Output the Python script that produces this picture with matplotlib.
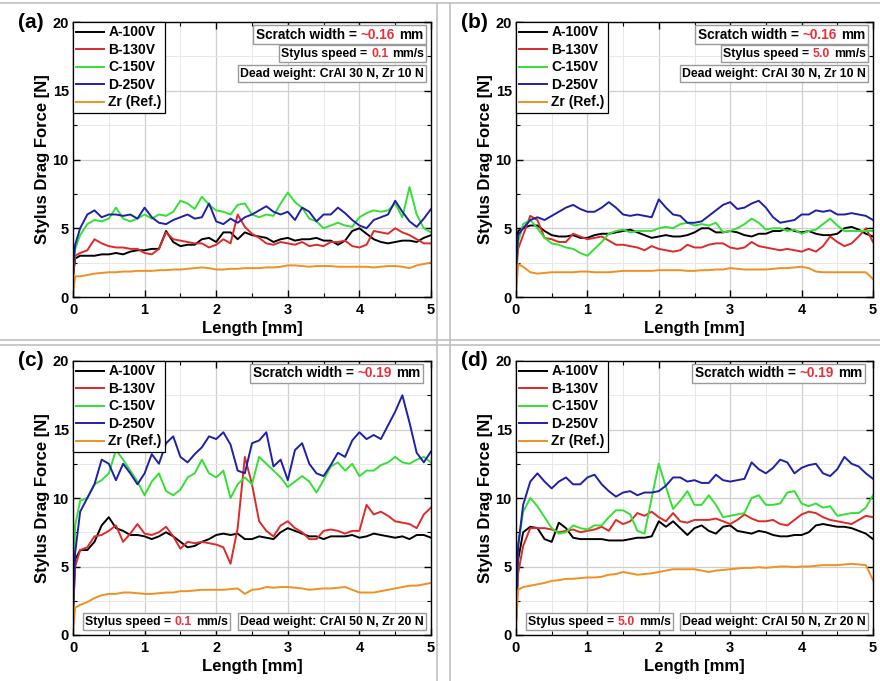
import matplotlib
matplotlib.use("Agg")
import matplotlib.pyplot as plt
from matplotlib.offsetbox import TextArea, HPacker, AnchoredOffsetbox
from matplotlib.ticker import MultipleLocator
from matplotlib.lines import Line2D

plt.rcParams['font.family'] = ['Liberation Sans', 'DejaVu Sans']
plt.rcParams['font.weight'] = 'bold'

# ---------------- data ----------------
length_mm = [0.0, 0.03, 0.1, 0.2, 0.3, 0.4, 0.5, 0.6, 0.7, 0.8, 0.9, 1.0,
             1.1, 1.2, 1.3, 1.4, 1.5, 1.6, 1.7, 1.8, 1.9, 2.0,
             2.1, 2.2, 2.3, 2.4, 2.5, 2.6, 2.7, 2.8, 2.9, 3.0,
             3.1, 3.2, 3.3, 3.4, 3.5, 3.6, 3.7, 3.8, 3.9, 4.0,
             4.1, 4.2, 4.3, 4.4, 4.5, 4.6, 4.7, 4.8, 4.9, 5.0]

series_labels = ['A-100V', 'B-130V', 'C-150V', 'D-250V', 'Zr (Ref.)']

# panel (a): 0.1 mm/s, CrAl 30 N
a_A = [1.5, 2.8, 3.0, 3.0, 3.0, 3.1, 3.1, 3.2, 3.1, 3.3, 3.4, 3.4,
       3.5, 3.5, 4.8, 4.0, 3.7, 3.8, 3.8, 4.2, 4.3, 4.0,
       4.7, 4.7, 4.2, 4.7, 4.5, 4.4, 4.3, 4.0, 4.2, 4.3,
       4.1, 4.2, 4.2, 4.3, 4.1, 4.1, 3.8, 4.1, 4.8, 5.0,
       4.6, 4.2, 4.0, 3.9, 4.0, 4.1, 4.1, 4.0, 4.3, 4.5]
a_B = [1.5, 3.0, 3.2, 3.4, 4.2, 3.9, 3.7, 3.6, 3.6, 3.5, 3.5, 3.2,
       3.1, 3.5, 4.7, 4.2, 4.1, 4.0, 3.9, 3.9, 3.6, 3.8,
       4.2, 3.9, 6.0, 5.1, 4.6, 4.3, 3.9, 3.8, 4.0, 3.9,
       3.8, 4.0, 3.7, 3.8, 3.7, 4.0, 4.0, 4.1, 3.7, 3.6,
       3.8, 4.8, 4.7, 4.6, 5.0, 4.7, 4.5, 4.2, 3.9, 3.9]
a_C = [2.0, 3.5, 4.5, 5.3, 5.6, 5.5, 5.7, 6.5, 5.7, 5.5, 5.7, 6.0,
       5.7, 6.0, 5.9, 6.2, 7.0, 6.8, 6.4, 7.3, 6.7, 6.3,
       6.2, 6.0, 6.7, 6.8, 6.0, 5.8, 6.0, 5.9, 6.8, 7.6,
       6.9, 6.5, 5.7, 5.5, 5.0, 5.2, 5.4, 5.2, 5.1, 5.8,
       6.1, 6.3, 6.2, 6.3, 6.8, 5.8, 8.0, 6.0, 5.0, 4.7]
a_D = [2.0, 3.8, 5.0, 6.0, 6.3, 5.8, 6.0, 6.0, 5.9, 6.0, 5.7, 6.5,
       5.8, 5.4, 5.3, 5.6, 5.8, 6.0, 5.7, 5.8, 6.8, 5.5,
       5.3, 5.7, 5.4, 5.8, 6.0, 6.3, 6.6, 6.2, 6.0, 6.2,
       5.6, 6.5, 6.2, 5.5, 6.0, 6.0, 6.5, 6.1, 5.6, 5.2,
       5.0, 5.6, 5.8, 6.0, 7.0, 6.2, 5.5, 5.1, 5.7, 6.4]
a_Zr = [0.2, 1.5, 1.5, 1.6, 1.7, 1.75, 1.8, 1.8, 1.85, 1.85, 1.9, 1.9,
        1.9, 1.95, 1.95, 2.0, 2.0, 2.05, 2.1, 2.15, 2.1, 2.0,
        2.0, 2.05, 2.05, 2.1, 2.1, 2.1, 2.15, 2.15, 2.2, 2.3,
        2.3, 2.25, 2.2, 2.25, 2.25, 2.25, 2.2, 2.2, 2.2, 2.2,
        2.2, 2.15, 2.2, 2.25, 2.25, 2.2, 2.1, 2.3, 2.4, 2.5]

# panel (b): 5.0 mm/s, CrAl 30 N
b_A = [2.0, 4.8, 5.0, 5.2, 5.2, 4.8, 4.5, 4.4, 4.4, 4.5, 4.3, 4.3,
       4.5, 4.6, 4.6, 4.7, 4.8, 4.9, 4.7, 4.5, 4.3, 4.4,
       4.5, 4.4, 4.4, 4.5, 4.7, 5.0, 5.0, 4.7, 4.7, 4.8,
       4.7, 4.5, 4.4, 4.6, 4.6, 4.8, 4.8, 5.0, 4.8, 4.7,
       4.8, 4.6, 4.5, 4.5, 4.6, 5.0, 5.1, 4.9, 4.6, 4.4]
b_B = [1.5, 3.5, 4.5, 5.9, 5.6, 4.3, 4.2, 4.0, 4.0, 4.6, 4.4, 4.2,
       4.3, 4.4, 4.1, 3.8, 3.8, 3.7, 3.6, 3.4, 3.7, 3.5,
       3.4, 3.3, 3.4, 3.8, 3.6, 3.6, 3.8, 3.9, 3.9, 3.6,
       3.5, 3.6, 4.0, 3.7, 3.6, 3.5, 3.4, 3.5, 3.4, 3.3,
       3.5, 3.3, 3.7, 4.4, 4.0, 3.7, 3.9, 4.4, 5.0, 4.0]
b_C = [2.0, 4.0, 5.3, 5.6, 5.0, 4.3, 3.9, 3.8, 3.6, 3.5, 3.2, 3.0,
       3.5, 4.0, 4.6, 4.8, 4.9, 4.7, 4.8, 4.8, 4.8, 5.0,
       5.1, 5.0, 5.3, 5.4, 5.2, 5.3, 5.2, 5.4, 4.7, 4.8,
       5.0, 5.3, 5.7, 5.4, 4.9, 5.0, 5.0, 4.8, 4.9, 4.6,
       4.8, 4.9, 5.3, 5.7, 5.2, 4.8, 4.8, 4.8, 4.8, 4.8]
b_D = [2.0, 4.5, 5.0, 5.6, 5.8, 5.6, 5.9, 6.2, 6.5, 6.7, 6.4, 6.2,
       6.2, 6.5, 6.9, 6.5, 6.0, 5.9, 6.0, 5.9, 5.8, 7.1,
       6.5, 6.0, 5.9, 5.4, 5.4, 5.5, 5.9, 6.3, 6.7, 6.9,
       6.4, 6.5, 6.8, 7.0, 6.5, 5.8, 5.4, 5.5, 5.6, 6.0,
       6.0, 6.3, 6.2, 6.3, 6.0, 6.0, 6.1, 6.0, 5.9, 5.6]
b_Zr = [0.2, 2.4, 2.2, 1.8, 1.7, 1.75, 1.8, 1.8, 1.8, 1.8, 1.85, 1.85,
        1.8, 1.8, 1.8, 1.85, 1.9, 1.9, 1.9, 1.9, 1.9, 1.95,
        1.95, 1.95, 1.95, 1.9, 1.9, 1.95, 1.95, 2.0, 2.0, 2.1,
        2.05, 2.0, 2.0, 2.0, 2.0, 2.05, 2.1, 2.1, 2.15, 2.2,
        2.1, 1.85, 1.8, 1.8, 1.8, 1.8, 1.8, 1.8, 1.8, 1.3]

# panel (c): 0.1 mm/s, CrAl 50 N
c_A = [1.5, 5.5, 6.2, 6.2, 6.8, 8.0, 8.6, 7.8, 7.6, 7.3, 7.3, 7.2,
       7.0, 7.2, 7.5, 7.2, 6.8, 6.4, 6.5, 6.8, 7.0, 7.3,
       7.4, 7.3, 7.4, 7.0, 7.0, 7.2, 7.1, 7.0, 7.5, 7.8,
       7.6, 7.4, 7.2, 7.2, 7.0, 7.2, 7.2, 7.2, 7.3, 7.1,
       7.2, 7.4, 7.3, 7.2, 7.1, 7.2, 7.0, 7.3, 7.3, 7.1]
c_B = [1.5, 5.0, 6.2, 6.4, 7.2, 7.3, 7.6, 8.0, 6.8, 7.4, 8.1, 7.4,
       7.3, 7.5, 7.9, 7.2, 6.3, 6.8, 6.7, 6.8, 6.7, 6.6,
       6.4, 5.2, 7.8, 13.0, 11.0, 8.3, 7.6, 7.2, 8.0, 8.3,
       7.8, 7.5, 7.0, 7.0, 7.6, 7.7, 7.6, 7.4, 7.6, 7.6,
       9.5, 8.8, 9.0, 8.7, 8.3, 8.2, 8.1, 7.8, 8.8, 9.3]
c_C = [2.0, 8.0, 9.8, 10.0, 11.0, 11.3, 11.8, 13.5, 12.8, 12.0, 11.2, 10.2,
       11.2, 11.8, 10.5, 10.2, 10.6, 11.5, 11.8, 12.8, 11.8, 11.5,
       12.0, 10.0, 11.0, 11.5, 11.0, 13.0, 12.5, 12.0, 11.5, 10.8,
       11.2, 11.6, 11.2, 10.4, 11.3, 12.3, 12.6, 12.0, 12.5, 11.6,
       12.0, 12.0, 12.4, 12.6, 13.0, 12.6, 12.5, 12.8, 13.0, 12.6]
c_D = [2.0, 6.0, 9.0, 10.0, 11.0, 12.8, 12.5, 11.3, 12.5, 11.8, 11.0, 11.8,
       13.2, 12.5, 14.0, 14.5, 13.0, 12.6, 13.2, 13.7, 14.5, 14.3,
       14.8, 13.9, 12.0, 11.8, 14.0, 14.2, 14.8, 12.3, 12.8, 11.3,
       13.5, 14.0, 12.5, 11.8, 11.6, 12.4, 13.3, 13.0, 14.2, 14.8,
       14.3, 14.6, 14.3, 15.3, 16.3, 17.5, 15.5, 13.3, 12.6, 13.4]
c_Zr = [0.2, 2.0, 2.2, 2.4, 2.7, 2.9, 3.0, 3.0, 3.1, 3.1, 3.05, 3.0,
        3.0, 3.05, 3.1, 3.1, 3.2, 3.2, 3.25, 3.3, 3.3, 3.3,
        3.3, 3.35, 3.4, 3.0, 3.3, 3.35, 3.5, 3.45, 3.5, 3.5,
        3.45, 3.4, 3.3, 3.35, 3.4, 3.4, 3.45, 3.5, 3.3, 3.1,
        3.1, 3.1, 3.2, 3.3, 3.4, 3.5, 3.6, 3.6, 3.7, 3.8]

# panel (d): 5.0 mm/s, CrAl 50 N
d_A = [1.0, 5.5, 7.5, 7.9, 7.8, 7.0, 6.8, 8.2, 7.8, 7.1, 7.0, 7.0,
       7.0, 7.0, 6.9, 6.9, 6.9, 7.0, 7.1, 7.1, 7.2, 8.3,
       7.9, 8.3, 7.8, 7.3, 7.8, 8.0, 7.6, 7.4, 7.9, 8.0,
       7.6, 7.5, 7.4, 7.6, 7.5, 7.3, 7.2, 7.2, 7.3, 7.3,
       7.5, 8.0, 8.1, 8.0, 7.9, 7.9, 7.8, 7.6, 7.4, 7.0]
d_B = [1.0, 4.5, 6.5, 7.8, 7.8, 7.8, 7.7, 7.5, 7.6, 7.7, 7.5, 7.6,
       7.7, 7.9, 7.6, 8.4, 8.1, 8.3, 8.9, 8.7, 9.0, 8.6,
       8.3, 8.9, 8.3, 8.2, 8.4, 8.4, 8.4, 8.5, 8.3, 8.1,
       8.4, 8.8, 8.5, 8.3, 8.3, 8.4, 8.1, 8.0, 8.4, 8.8,
       9.0, 8.9, 8.6, 8.4, 8.3, 8.2, 8.1, 8.4, 8.7, 8.6]
d_C = [1.0, 6.5, 9.0, 10.0, 9.4, 8.6, 7.8, 7.4, 7.5, 8.0, 7.8, 7.7,
       8.0, 8.0, 8.6, 9.1, 9.1, 8.8, 7.6, 7.4, 10.0, 12.5,
       10.8, 9.2, 9.8, 10.5, 9.5, 9.5, 10.2, 9.5, 8.6, 8.7,
       8.8, 8.9, 10.0, 10.2, 9.5, 9.5, 9.6, 10.4, 10.5, 9.6,
       9.4, 9.6, 9.3, 9.4, 8.7, 8.8, 8.9, 8.9, 9.3, 10.2]
d_D = [1.0, 6.5, 9.5, 11.2, 11.8, 11.2, 10.7, 11.2, 11.5, 11.0, 11.0, 11.5,
       11.7, 11.0, 10.5, 10.1, 10.4, 10.5, 10.2, 10.4, 10.4, 10.5,
       10.9, 11.5, 11.5, 11.2, 11.3, 11.1, 11.1, 11.7, 11.3, 11.2,
       11.3, 11.4, 12.6, 12.1, 11.8, 12.2, 12.8, 12.6, 11.8, 12.2,
       12.4, 12.5, 11.8, 11.6, 12.1, 13.0, 12.5, 12.3, 11.8, 11.4]
d_Zr = [0.5, 3.3, 3.5, 3.6, 3.7, 3.8, 3.95, 4.0, 4.1, 4.1, 4.15, 4.2,
        4.2, 4.25, 4.4, 4.45, 4.6, 4.5, 4.4, 4.45, 4.5, 4.6,
        4.7, 4.8, 4.8, 4.8, 4.8, 4.7, 4.6, 4.7, 4.75, 4.8,
        4.85, 4.9, 4.9, 4.95, 4.9, 4.95, 5.0, 5.0, 4.95, 5.0,
        5.0, 5.05, 5.1, 5.1, 5.1, 5.15, 5.2, 5.15, 5.1, 4.0]

panel_tags = ['(a)', '(b)', '(c)', '(d)']
scratch_widths = ['~0.16', '~0.16', '~0.19', '~0.19']
stylus_speeds = ['0.1', '5.0', '0.1', '5.0']
dead_weights = ['Dead weight: CrAl 30 N, Zr 10 N', 'Dead weight: CrAl 30 N, Zr 10 N',
                'Dead weight: CrAl 50 N, Zr 20 N', 'Dead weight: CrAl 50 N, Zr 20 N']

# ---------------- styling ----------------
colors = ['#000000', '#dd2a2a', '#35e035', '#2020a8', '#f09020']
RED = '#e8303a'
W, H = 880, 681

fig = plt.figure(figsize=(8.8, 6.81), dpi=100)

# light gray frame lines between panels
for (x0, y0, x1, y1) in [(0, 3, 880, 3), (0, 340, 880, 340), (0, 345, 880, 345),
                         (437, 3, 437, 681), (450, 3, 450, 681)]:
    fig.add_artist(Line2D([x0 / W, x1 / W], [1 - y0 / H, 1 - y1 / H],
                          color='#c0c0c0', lw=1.2, transform=fig.transFigure))

ax_px = [(73, 22, 431, 297), (516, 22, 873, 297), (73, 361, 431, 635), (516, 361, 873, 635)]
panel_data = [[a_A, a_B, a_C, a_D, a_Zr], [b_A, b_B, b_C, b_D, b_Zr],
              [c_A, c_B, c_C, c_D, c_Zr], [d_A, d_B, d_C, d_D, d_Zr]]


def boxed(ax, parts, size, loc, anchor):
    areas = [TextArea(t, textprops=dict(color=c, fontsize=size, fontweight='bold'))
             for t, c in parts]
    pack = HPacker(children=areas, align='baseline', pad=0, sep=size * 0.3)
    ab = AnchoredOffsetbox(loc=loc, child=pack, pad=0.2, borderpad=0, frameon=True,
                           bbox_to_anchor=anchor, bbox_transform=ax.transAxes,
                           prop=dict(size=size))
    ab.patch.set_edgecolor('#9a9a9a')
    ab.patch.set_linewidth(1.0)
    ab.patch.set_boxstyle('square', pad=0)
    ab.set_zorder(6)
    ax.add_artist(ab)


for i, (l, t, r, b) in enumerate(ax_px):
    ax = fig.add_axes([l / W, 1 - b / H, (r - l) / W, (b - t) / H])
    for ys, col, lab in zip(panel_data[i], colors, series_labels):
        ax.plot(length_mm, ys, color=col, lw=1.4, label=lab)
    ax.set_xlim(0, 5)
    ax.set_ylim(0, 20)
    ax.xaxis.set_major_locator(MultipleLocator(1))
    ax.xaxis.set_minor_locator(MultipleLocator(0.5))
    ax.yaxis.set_major_locator(MultipleLocator(5))
    ax.yaxis.set_minor_locator(MultipleLocator(2.5))
    ax.grid(which='major', color='#cfcfcf', lw=0.9)
    ax.grid(which='minor', color='#e8e8e8', lw=0.7)
    ax.set_axisbelow(True)
    ax.tick_params(which='both', direction='in', top=True, right=True,
                   labelsize=10.5)
    ax.tick_params(axis='y', pad=3)
    ax.tick_params(axis='x', pad=4)
    ax.tick_params(which='major', length=5, width=1)
    ax.tick_params(which='minor', length=3, width=0.8)
    for s in ax.spines.values():
        s.set_linewidth(1.0)
    for lbl in ax.get_xticklabels() + ax.get_yticklabels():
        lbl.set_fontweight('bold')
    ax.set_xlabel('Length [mm]', fontsize=12, fontweight='bold', labelpad=3)
    ax.set_ylabel('Stylus Drag Force [N]', fontsize=12, fontweight='bold', labelpad=2)
    ax.text(-0.155, 1.0, panel_tags[i], transform=ax.transAxes, fontsize=15,
            fontweight='bold', ha='left', va='center')

    leg = ax.legend(loc='upper left', frameon=True, fancybox=False, framealpha=1,
                    edgecolor='black', prop=dict(weight='bold', size=10),
                    borderaxespad=0, handlelength=2.0, labelspacing=0.25,
                    borderpad=0.25, handletextpad=0.3)
    leg.get_frame().set_linewidth(0.9)
    leg.set_zorder(7)

    boxed(ax, [('Scratch width =', 'black'), (scratch_widths[i], RED), ('mm', 'black')],
          9.8, 'upper right', (0.987 if i < 2 else 0.978, 0.989 if i < 2 else 0.99))
    if i < 2:
        boxed(ax, [('Stylus speed =', 'black'), (stylus_speeds[i], RED), ('mm/s', 'black')],
              8.8, 'upper right', (0.987, 0.916))
        boxed(ax, [(dead_weights[i], 'black')], 8.8, 'upper right', (0.987, 0.843))
    else:
        boxed(ax, [('Stylus speed =', 'black'), (stylus_speeds[i], RED), ('mm/s', 'black')],
              8.8, 'lower left', (0.027, 0.018))
        boxed(ax, [(dead_weights[i], 'black')], 8.8, 'lower right', (0.987, 0.018))

fig.savefig('out.png', dpi=100)
